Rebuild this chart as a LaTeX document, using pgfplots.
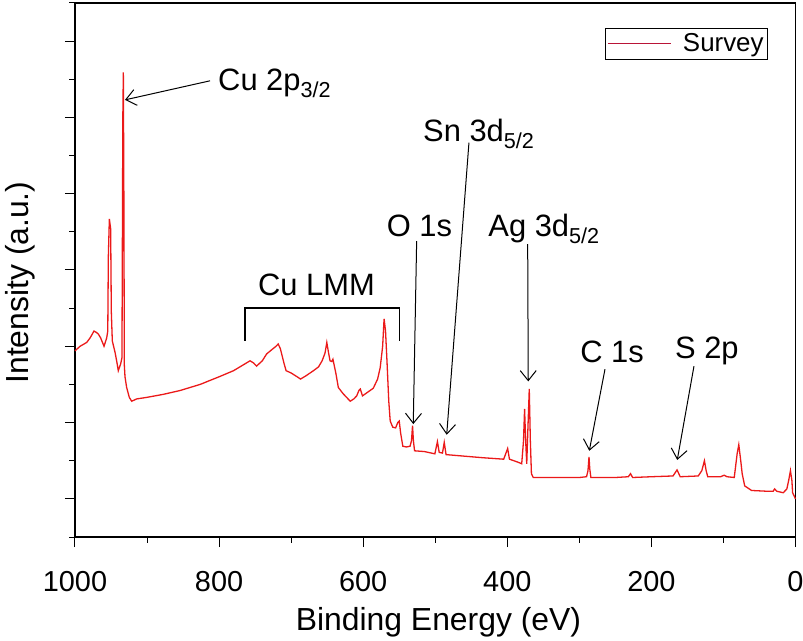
\documentclass[border=0pt]{standalone}
\usepackage{fontspec}
\setmainfont{Liberation Sans}
\usepackage{pgfplots}
\usepackage{pgfplotstable}
\pgfplotsset{compat=1.18}
\usetikzlibrary{arrows.meta}
\definecolor{spec}{RGB}{235,25,25}
\definecolor{legc}{RGB}{185,20,55}

\pgfplotstableread{
E v
1000 1.94
993 2.00
983.8 2.05
979 2.11
973.6 2.20
970 2.18
967.6 2.16
964.4 2.11
959.7 2.00
956 2.11
954.5 2.20
953.7 3.18
952.3 3.67
950.5 3.54
949.6 2.46
948.2 2.07
944.4 1.92
942 1.80
939.9 1.68
936.6 1.77
934.8 1.85
933.6 5.00
932.9 5.59
932.2 4.08
931.5 1.75
930.6 1.60
928.3 1.46
924.6 1.33
921.3 1.28
914.4 1.31
900.5 1.33
877.4 1.37
854.2 1.42
826.4 1.50
800 1.60
780 1.68
764 1.77
757 1.81
752 1.78
748 1.74
740 1.81
734 1.90
725 1.97
721 2.00
718 2.03
715 1.97
710 1.78
707 1.68
700 1.65
690 1.59
687 1.57
680 1.61
669 1.68
662 1.73
657 1.81
653 1.91
650.5 2.05
648 1.91
646 1.81
643.5 1.80
642 1.83
638 1.65
634.5 1.46
628 1.38
618 1.28
613 1.31
609 1.35
606 1.42
604 1.44
601 1.35
595 1.39
586 1.45
580 1.57
576.4 1.72
573 2.00
571 2.36
569 2.20
567 1.81
564.5 1.28
562.5 1.02
559 0.94
555 0.93
552 1.00
550 1.02
548 0.86
545 0.69
540 0.68
535 0.69
533 0.76
531.5 0.96
530.3 0.76
528.7 0.63
515 0.62
500.5 0.59
497 0.75
494.5 0.61
490 0.60
487.5 0.74
485 0.58
460 0.56
435 0.54
405 0.52
399.5 0.66
397 0.52
385 0.48
380 0.46
377.5 0.76
376 1.18
374.5 0.76
373 0.46
371.5 0.89
369.5 1.44
368 0.76
366.5 0.33
364 0.28
340 0.28
300 0.28
290 0.29
288 0.37
286.6 0.55
285.5 0.39
284 0.28
250 0.28
232 0.29
229 0.33
226 0.28
200 0.29
170 0.30
164.4 0.38
160 0.29
135 0.30
130 0.37
126.4 0.50
124 0.37
121.8 0.29
104 0.29
99 0.31
95 0.29
85 0.28
81 0.59
78.7 0.71
76 0.50
74 0.33
70.5 0.17
61 0.11
40 0.10
31 0.10
29 0.13
26 0.10
17 0.08
12 0.13
9.5 0.24
7 0.37
5 0.24
4 0.08
0 0.00
}\survey

\begin{document}
\begin{tikzpicture}
\begin{axis}[
  scale only axis, width=720.5bp, height=534bp,
  x dir=reverse, xmin=0, xmax=1000, ymin=-0.5, ymax=6.5,
  xtick={0,200,...,1000}, minor xtick={100,300,...,900},
  ytick={0,...,6}, minor ytick={-0.5,0.5,...,6.5},
  yticklabels={},
  tick align=outside, xtick pos=bottom, ytick pos=left,
  major tick length=10bp, minor tick length=5.5bp,
  every tick/.style={black, line width=1bp},
  axis line style={line width=1.2bp},
  /pgf/number format/assume math mode=true,
  /pgf/number format/1000 sep={},
  xticklabel style={font=\fontsize{29}{34}\selectfont, yshift=-21bp},
  xlabel={Binding Energy (eV)},
  ylabel={Intensity (a.u.)},
  label style={font=\fontsize{32}{38}\selectfont},
  xlabel style={at={(axis description cs:0.5045,-0.159)}, anchor=center},
  ylabel style={at={(axis description cs:-0.0763,0.4766)}, anchor=center},
  legend style={at={(1,1)}, anchor=north east, xshift=-27.5bp, yshift=-25bp,
    draw=black, line width=0.8bp, font=\fontsize{26}{30}\selectfont,
    inner xsep=2bp, inner ysep=3.5bp, column sep=9bp},
  legend image code/.code={\draw[legc, line width=1.2bp] (0bp,0bp) -- (63bp,0bp);},
  clip=false,
]
\addplot[spec, line width=1.3bp, forget plot] table[x=E, y=v] {\survey};
\addlegendimage{legc, line width=1.2bp}
\addlegendentry{Survey}

\coordinate (bl) at (axis description cs:0,0);

\tikzset{ann/.style={anchor=base west, inner sep=0pt, font=\fontsize{31}{36}\selectfont},
  arr/.style={line width=1bp, -{Straight Barb[length=10bp,width=16bp,line width=1bp]}}}

\node[ann] at (axis cs:801.5,5.35) {Cu 2p\textsubscript{3/2}};
\draw[arr] (axis cs:812.6,5.48) -- (axis cs:930.6,5.23);

\draw[line width=1.2bp] (axis cs:764,2.07) -- (axis cs:764,2.503) -- (axis cs:549.6,2.503) -- (axis cs:549.6,2.07);
\node[ann] at (axis cs:746,2.66) {Cu LMM};

\node[ann] at (axis cs:567.5,3.44) {O 1s};
\draw[arr] (axis cs:525.8,3.38) -- (axis cs:530.5,0.98);

\node[ann] at (axis cs:517,4.69) {Sn 3d\textsubscript{5/2}};
\draw[arr] (axis cs:453.2,4.67) -- (axis cs:484.1,0.84);

\node[ann] at (axis cs:426.4,3.44) {Ag 3d\textsubscript{5/2}};
\draw[arr] (axis cs:371.7,3.34) -- (axis cs:370.9,1.54);

\node[ann] at (axis cs:299,1.79) {C 1s};
\draw[arr] (axis cs:264.4,1.70) -- (axis cs:286.2,0.63);

\node[ann] at (axis cs:167.3,1.84) {S 2p};
\draw[arr] (axis cs:140.9,1.74) -- (axis cs:164.1,0.51);
\end{axis}
\pgfresetboundingbox
\path (bl) ++(-75bp,-104bp) rectangle ++(803bp,641bp);
\end{tikzpicture}
\end{document}
